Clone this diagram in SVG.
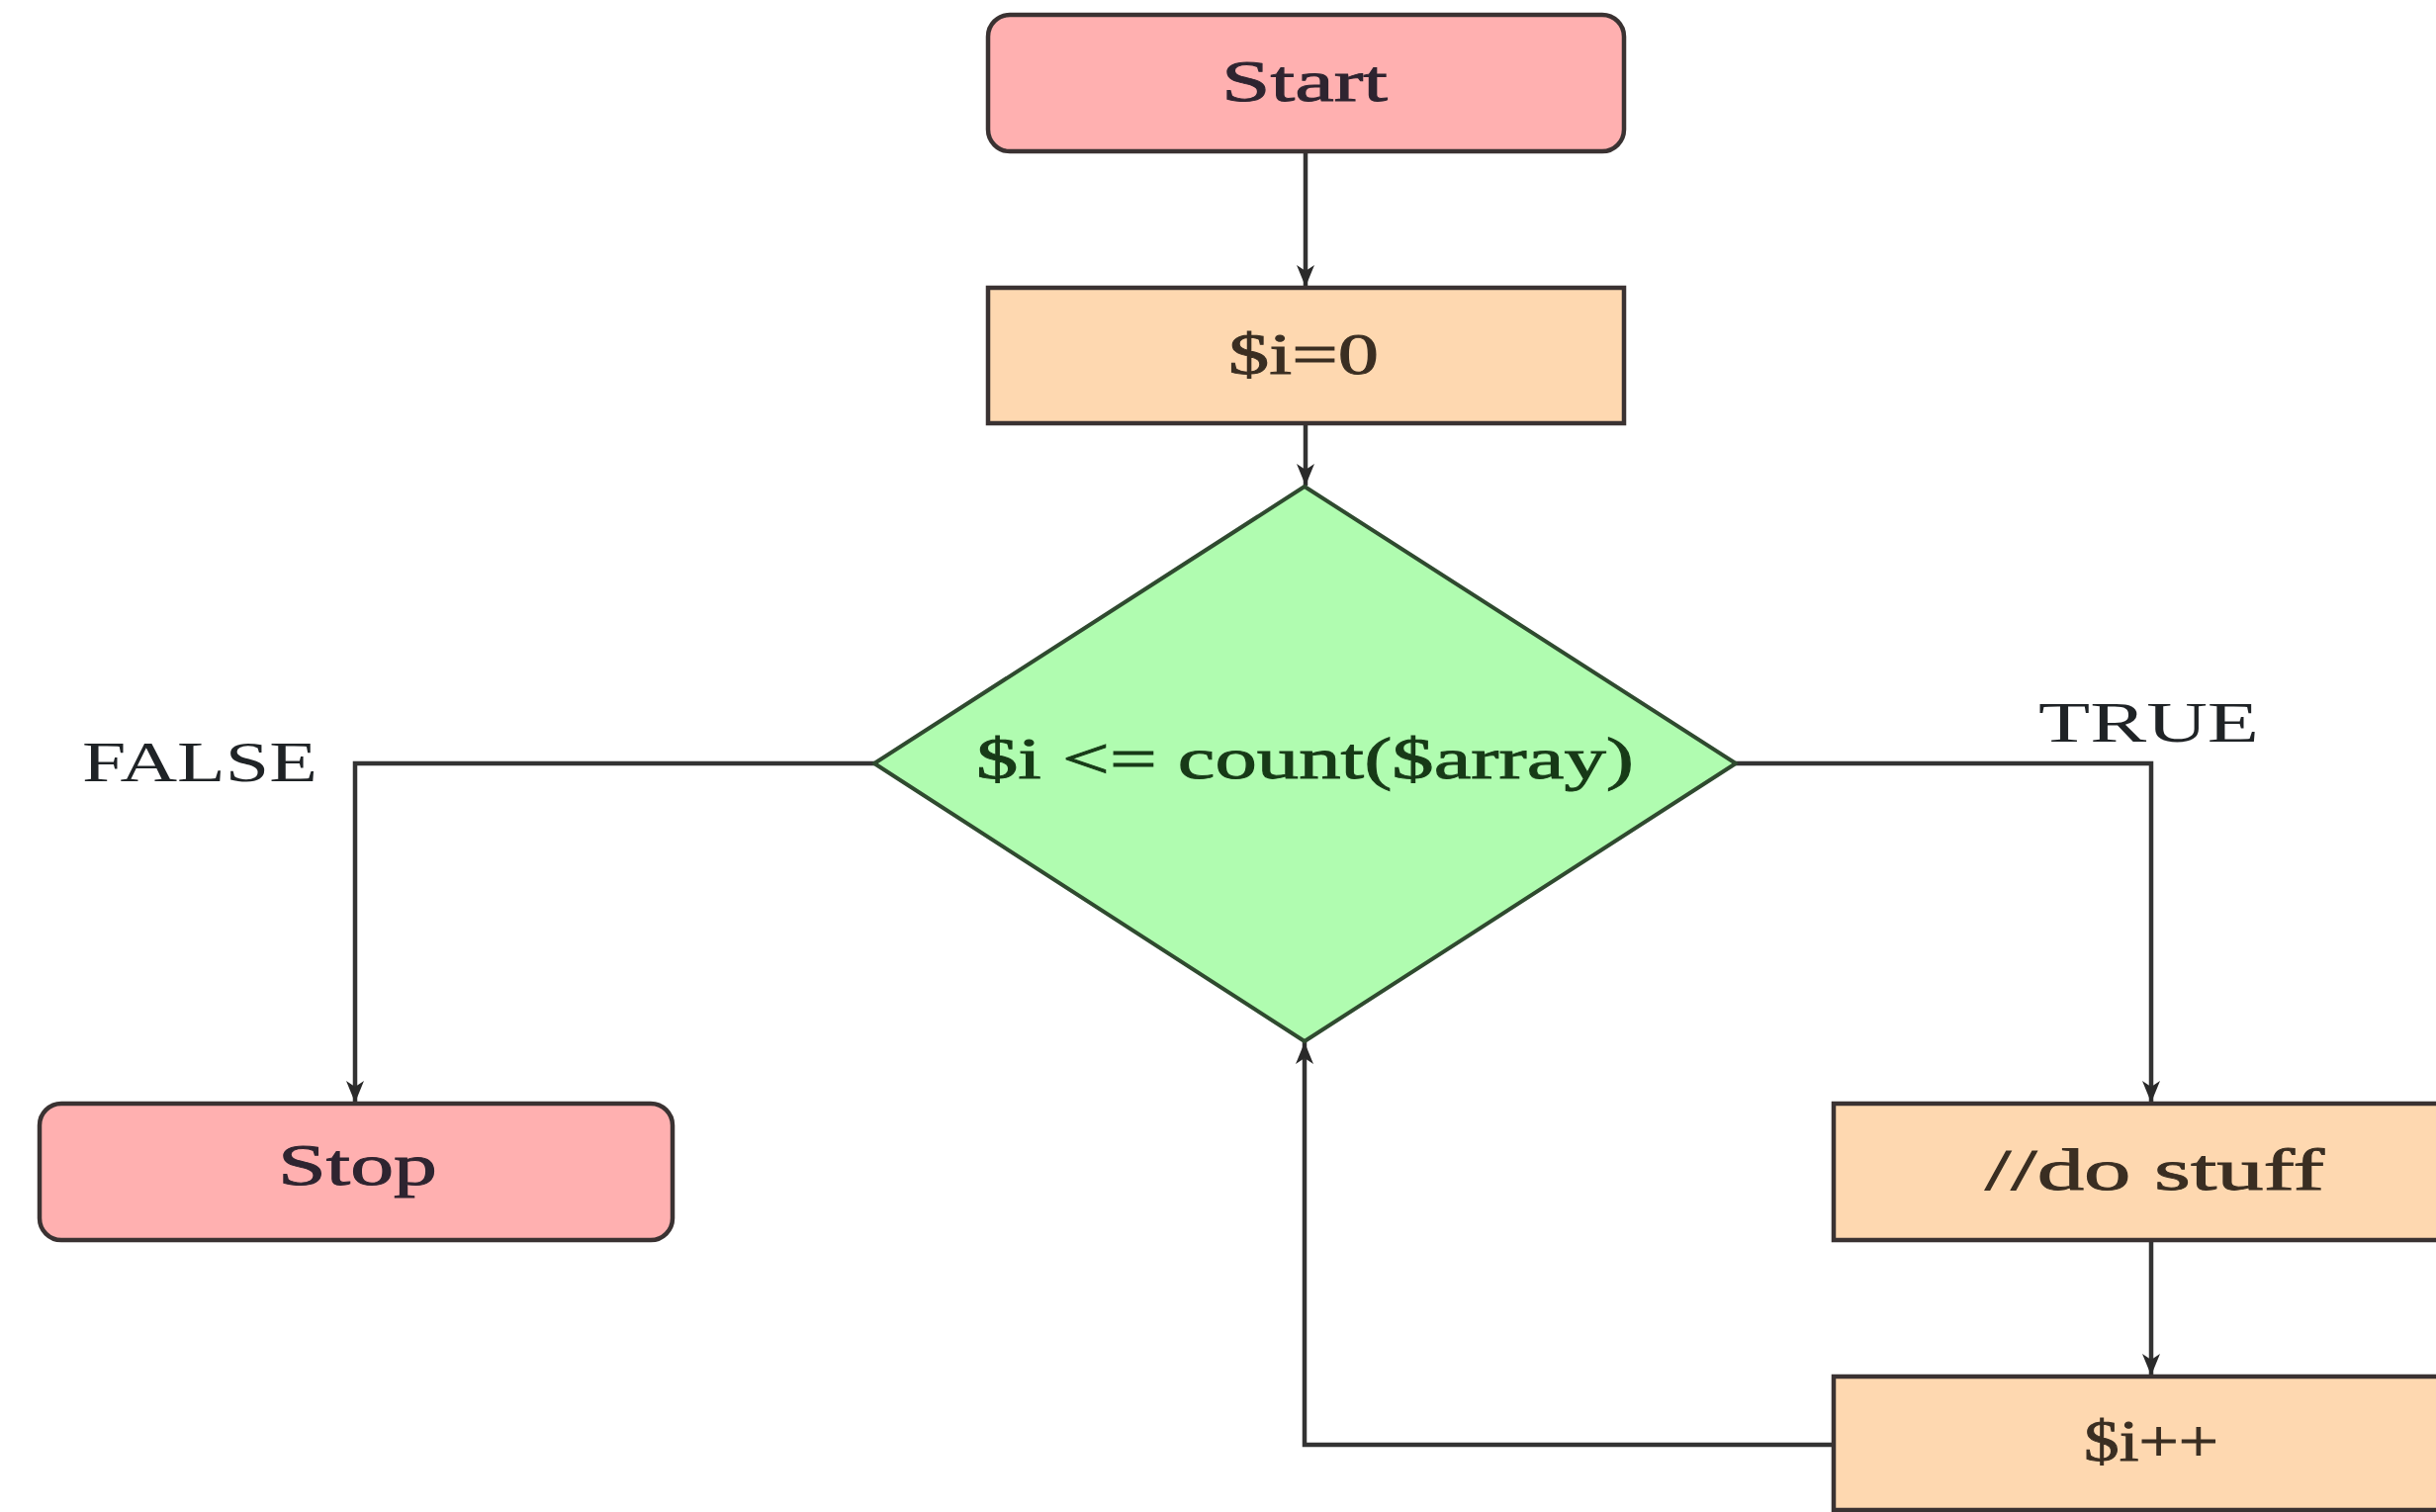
<svg xmlns="http://www.w3.org/2000/svg" width="2463" height="1529" viewBox="0 0 2463 1529">
  <style>
    .terminal { fill: #ffb0b0; stroke: #3a3232; stroke-width: 4.5; }
    .process { fill: #fed8b0; stroke: #3a3232; stroke-width: 4.5; }
    .decision { fill: #b0fcb0; stroke: #2f4a2f; stroke-width: 4; stroke-linejoin: round; }
    .label { font-family: "Liberation Serif", "DejaVu Serif", serif; font-size: 60px; stroke-width: 0.9; }
    .t-term { fill: #2e2430; stroke: #2e2430; }
    .t-proc { fill: #3a2e22; stroke: #3a2e22; }
    .t-dec { fill: #173a17; stroke: #173a17; }
    .branch { font-family: "Liberation Serif", "DejaVu Serif", serif; font-size: 58px; fill: #1f2326; }
    .edge { fill: none; stroke: #333333; stroke-width: 4.5; marker-end: url(#arrow); }
  </style>
  <defs>
    <marker id="arrow" markerUnits="userSpaceOnUse" markerWidth="24" markerHeight="20" viewBox="0 0 24 20" refX="22" refY="10" orient="auto">
      <path d="M0,1 L22,10 L0,19 L6,10 Z" fill="#2a2a2a"/>
    </marker>
  </defs>
  <rect width="2463" height="1529" fill="#ffffff"/>

  <g id="connectors">
    <path class="edge" d="M1320 153 V290"/>
    <path class="edge" d="M1320 428 V491"/>
    <path class="edge" d="M884 772 H359 V1115"/>
    <path class="edge" d="M1755 772 H2175 V1115"/>
    <path class="edge" d="M2175 1254 V1391"/>
    <path class="edge" d="M1854 1461 H1319 V1054"/>
  </g>

  <g id="start">
    <rect class="terminal" x="999" y="15" width="643" height="138" rx="22"/>
    <text class="label t-term" x="1235" y="102" textLength="168" lengthAdjust="spacingAndGlyphs">Start</text>
  </g>

  <g id="init">
    <rect class="process" x="999" y="291" width="643" height="137"/>
    <text class="label t-proc" x="1242" y="378" textLength="152" lengthAdjust="spacingAndGlyphs">$i=0</text>
  </g>

  <g id="condition">
    <polygon class="decision" points="1319,492 1755,772 1319,1053 884,772"/>
    <text class="label t-dec" x="987" y="787" textLength="665" lengthAdjust="spacingAndGlyphs">$i &lt;= count($array)</text>
  </g>

  <g id="stop">
    <rect class="terminal" x="40" y="1116" width="640" height="138" rx="22"/>
    <text class="label t-term" x="281" y="1198" textLength="161" lengthAdjust="spacingAndGlyphs">Stop</text>
  </g>

  <g id="body">
    <rect class="process" x="1854" y="1116" width="643" height="138"/>
    <text class="label t-proc" x="2007" y="1203" textLength="343" lengthAdjust="spacingAndGlyphs">//do stuff</text>
  </g>

  <g id="increment">
    <rect class="process" x="1854" y="1392" width="643" height="135"/>
    <text class="label t-proc" x="2107" y="1477" textLength="136" lengthAdjust="spacingAndGlyphs">$i++</text>
  </g>

  <g id="branch-labels">
    <text class="branch" x="83" y="790" textLength="238" lengthAdjust="spacingAndGlyphs">FALSE</text>
    <text class="branch" x="2061" y="750" textLength="223" lengthAdjust="spacingAndGlyphs">TRUE</text>
  </g>
</svg>
